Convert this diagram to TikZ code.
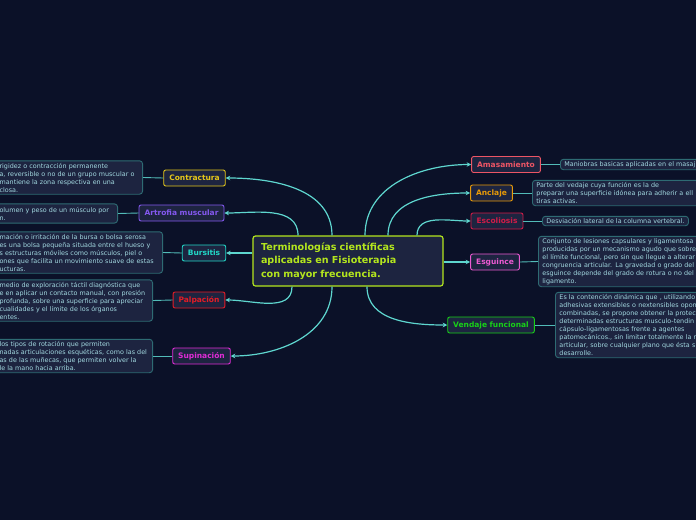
\documentclass[tikz,border=0pt]{standalone}
\usepackage{fontspec}
\setmainfont{DejaVu Sans}
\usetikzlibrary{arrows.meta}

\definecolor{bgc}{HTML}{0B1128}
\definecolor{boxc}{HTML}{1D2440}
\definecolor{linkc}{HTML}{5ED6CF}
\definecolor{descline}{HTML}{2E6B73}
\definecolor{desctext}{HTML}{A2D8E0}
\definecolor{topicc}{HTML}{B4E61E}
\definecolor{contrc}{HTML}{E5C81A}
\definecolor{atrofc}{HTML}{8458F0}
\definecolor{bursc}{HTML}{22D8C8}
\definecolor{palpc}{HTML}{E41C26}
\definecolor{supc}{HTML}{E02CD6}
\definecolor{amasc}{HTML}{EC5565}
\definecolor{anclc}{HTML}{E89A08}
\definecolor{escoc}{HTML}{D01C48}
\definecolor{esguc}{HTML}{EC5AD2}
\definecolor{vendc}{HTML}{18D018}

\begin{document}
\begin{tikzpicture}[x=1pt, y=1pt,
    topic/.style={draw=topicc, fill=boxc, line width=1.2pt, rounded corners=2.5pt,
        text=topicc, font=\fontsize{9.6}{13.5}\selectfont\bfseries, align=left,
        text width=174pt, inner xsep=8pt, minimum height=50pt},
    term/.style={draw=#1, fill=boxc, line width=0.9pt, rounded corners=2pt,
        text=#1, font=\fontsize{7.5}{9}\selectfont\bfseries,
        minimum height=16pt, inner xsep=5.5pt, inner ysep=0pt},
    desc/.style={draw=descline, fill=boxc, line width=0.9pt, rounded corners=3pt,
        text=desctext, font=\fontsize{6.4}{8}\selectfont, align=left,
        inner xsep=4pt, inner ysep=2.1pt},
    link/.style={draw=linkc, line width=1.2pt, -{Stealth[length=4.5pt,width=4.5pt]}},
    leaf/.style={draw=linkc!75!descline, line width=0.9pt}]

    % Background
    \useasboundingbox (0,0) rectangle (696,-520);
    \clip (0,0) rectangle (696,-520);
    \fill[bgc] (0,0) rectangle (696,-520);

    % Central topic
    \node[topic] (topic) at (348,-261)
        {Terminologías científicas\\aplicadas en Fisioterapia\\con mayor frecuencia.};

    % Left branches
    \node[term=contrc] (contr) at (194.5,-178) {Contractura};
    \node[term=atrofc] (atrof) at (181.5,-213) {Artrofia muscular};
    \node[term=bursc] (burs) at (204,-253) {Bursitis};
    \node[term=palpc] (palp) at (199,-300) {Palpación};
    \node[term=supc] (supi) at (201.5,-356) {Supinación};

    % Right branches
    \node[term=amasc] (amas) at (506,-164.5) {Amasamiento};
    \node[term=anclc] (ancl) at (491.5,-193) {Anclaje};
    \node[term=escoc] (esco) at (497,-221) {Escoliosis};
    \node[term=esguc] (esgu) at (495,-262) {Esguince};
    \node[term=vendc] (vend) at (491,-325) {Vendaje funcional};

    % Descriptions (left)
    \node[desc, anchor=east, text width=139pt] (dContr) at (143,-177.5)
        {rigidez o contracción permanente\\a, reversible o no de un grupo muscular o\\ mantiene la zona respectiva en una\\closa.};
    \node[desc, anchor=east, text width=114pt, inner ysep=3pt] (dAtrof) at (118,-213.5)
        {olumen y peso de un músculo por\\n.};
    \node[desc, anchor=east, text width=159pt] (dBurs) at (163,-252.5)
        {mación o irritación de la bursa o bolsa serosa\\es una bolsa pequeña situada entre el hueso y\\s estructuras móviles como músculos, piel o\\ones que facilita un movimiento suave de estas\\ucturas.};
    \node[desc, anchor=east, text width=149pt] (dPalp) at (153,-300.5)
        {medio de exploración táctil diagnóstica que\\e en aplicar un contacto manual, con presión\\ profunda, sobre una superficie para apreciar\\cualidades y el límite de los órganos\\entes.};
    \node[desc, anchor=east, text width=149pt] (dSupi) at (153,-356)
        {los tipos de rotación que permiten\\nadas articulaciones esquéticas, como las del\\as de las muñecas, que permiten volver la\\le la mano hacia arriba.};

    % Descriptions (right)
    \node[desc, anchor=west, text width=200pt] (dAmas) at (560,-164.5)
        {Maniobras basicas aplicadas en el masaj};
    \node[desc, anchor=west, text width=200pt] (dAncl) at (532,-193)
        {Parte del vedaje cuya función es la de\\preparar una superficie idónea para adherir a ell\\tiras activas.};
    \node[desc, anchor=west] (dEsco) at (542,-221)
        {Desviación lateral de la columna vertebral.};
    \node[desc, anchor=west, text width=200pt] (dEsgu) at (538,-261.5)
        {Conjunto de lesiones capsulares y ligamentosa\\producidas por un mecanismo agudo que sobre\\el límite funcional, pero sin que llegue a alterar\\congruencia articular. La gravedad o grado del\\esguince depende del grado de rotura o no del\\ligamento.};
    \node[desc, anchor=west, text width=200pt] (dVend) at (555,-325)
        {Es la contención dinámica que , utilizando\\adhesivas extensibles o nextensibles opon\\combinadas, se propone obtener la protec\\determinadas estructuras musculo-tendin\\cápsulo-ligamentosas frente a agentes\\patomecánicos., sin limitar totalmente la m\\articular, sobre cualquier plano que ésta s\\desarrolle.};

    % Links from the topic
    \draw[link] ([xshift=-16pt]topic.north) to[out=90, in=0] (contr.east);
    \draw[link] ([xshift=-50pt]topic.north) to[out=90, in=0] (atrof.east);
    \draw[link] (topic.west |- burs) -- (burs.east);
    \draw[link] ([xshift=-56pt]topic.south) to[out=-90, in=0] (palp.east);
    \draw[link] ([xshift=-16pt]topic.south) to[out=-90, in=0] (supi.east);
    \draw[link] ([xshift=17pt]topic.north) to[out=90, in=180] (amas.west);
    \draw[link] ([xshift=40pt]topic.north) to[out=90, in=180] (ancl.west);
    \draw[link] ([xshift=69pt]topic.north) to[out=90, in=180] (esco.west);
    \draw[link] (topic.east |- esgu) -- (esgu.west);
    \draw[link] ([xshift=19pt]topic.south) to[out=-90, in=180] (vend.west);

    % Links to the descriptions
    \draw[leaf] (contr.west) -- (dContr.east);
    \draw[leaf] (atrof.west) -- (dAtrof.east);
    \draw[leaf] (burs.west) -- (dBurs.east);
    \draw[leaf] (palp.west) -- (dPalp.east);
    \draw[leaf] (supi.west) -- (dSupi.east);
    \draw[leaf] (amas.east) -- (dAmas.west);
    \draw[leaf] (ancl.east) -- (dAncl.west);
    \draw[leaf] (esco.east) -- (dEsco.west);
    \draw[leaf] (esgu.east) -- (dEsgu.west);
    \draw[leaf] (vend.east) -- (dVend.west);
\end{tikzpicture}
\end{document}
